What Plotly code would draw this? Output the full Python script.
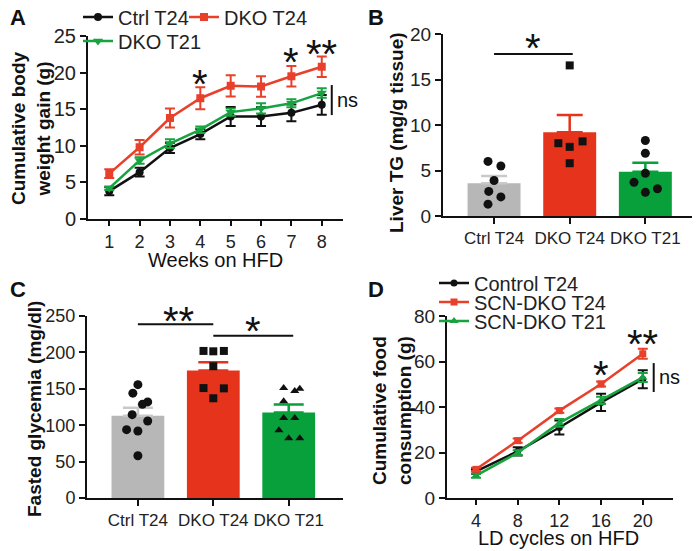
import plotly.graph_objects as go

# page body has an 8px default margin: the figure is sized to fill the rest of the 700x551 window
OFF = 8
W, H = 700 - OFF, 551 - OFF
def fx(px): return (px - OFF) / W
def fy(py): return 1 - (py - OFF) / H

FONT = "Arial, Liberation Sans, sans-serif"

# ---------------- data ----------------
weeks = [1, 2, 3, 4, 5, 6, 7, 8]
ctrl_bw = [3.8, 6.4, 9.7, 11.6, 14.0, 14.0, 14.5, 15.6]
ctrl_bw_sem = [0.55, 0.6, 0.7, 0.7, 1.3, 1.3, 1.15, 1.35]
dko24_bw = [6.2, 9.8, 13.8, 16.5, 18.2, 18.1, 19.5, 20.8]
dko24_bw_sem = [0.6, 1.0, 1.3, 1.5, 1.45, 1.4, 1.4, 1.4]
dko21_bw = [4.2, 8.0, 10.3, 12.2, 14.6, 15.1, 15.8, 17.2]
dko21_bw_sem = [0.25, 0.45, 0.6, 0.45, 0.5, 0.7, 0.55, 0.65]

groups = ["Ctrl T24", "DKO T24", "DKO T21"]
tg_mean = [3.6, 9.2, 4.85]
tg_sem = [0.8, 1.9, 1.0]
tg_ctrl = [6.0, 5.5, 3.9, 2.7, 2.1, 1.3]
tg_dko24 = [16.55, 8.0, 8.2, 7.6, 5.8]
tg_dko21 = [8.3, 6.9, 4.7, 3.7, 2.6, 3.0]

gly_mean = [113, 175, 117.5]
gly_sem = [11, 11.4, 11]
gly_ctrl = [155.7, 144, 132, 128.7, 114.5, 105.8, 93.9, 92, 58]
gly_dko24 = [202, 201.5, 202, 181, 151, 150.6, 137]
gly_dko21 = [151, 147, 150, 133, 110, 110, 93, 82, 82]

ld_cycles = [4, 8, 12, 16, 20]
ctrl_food = [11.7, 20.5, 31.0, 42.0, 52.2]
ctrl_food_sem = [1.0, 1.8, 3.1, 3.8, 4.0]
dko24_food = [12.6, 25.2, 38.4, 50.1, 63.4]
dko24_food_sem = [0.7, 0.9, 0.9, 1.1, 2.2]
dko21_food = [9.8, 19.9, 33.0, 42.9, 53.0]
dko21_food_sem = [0.95, 1.1, 1.7, 1.6, 2.0]

# ---------------- styles / layout helpers ----------------
BLACK = "#111111"
RED = "#e8402b"
GREEN = "#17a340"
BAR_GRAY = "#b7b7b7"
BAR_RED = "#e5341b"
BAR_GREEN = "#07a03b"

# horizontal jitter of dots (layout only, category units)
jit_tg = [[-0.08, 0.09, 0.0, -0.07, 0.09, -0.08],
          [0.0, -0.15, 0.17, 0.0, 0.0],
          [0.0, 0.0, 0.0, -0.15, 0.0, 0.16]]
jit_gly = [[0.0, -0.067, 0.13, 0.06, -0.076, 0.13, -0.15, 0.0, 0.0],
           [-0.13, 0.0, 0.14, 0.0, -0.13, 0.14, 0.0],
           [-0.067, 0.08, 0.147, -0.067, -0.067, 0.08, -0.13, 0.0, 0.147]]

fig = go.Figure()

def line_trace(x, y, e, color, symbol, name, xa, ya, legend, size=9):
    return go.Scatter(
        x=x, y=y, mode="lines+markers", name=name,
        line=dict(color=color, width=2.5),
        marker=dict(color=color, symbol=symbol, size=size),
        error_y=dict(type="data", array=e, color=color, thickness=2, width=5),
        xaxis=xa, yaxis=ya, legend=legend, showlegend=True)

# Panel A
fig.add_trace(line_trace(weeks, ctrl_bw, ctrl_bw_sem, BLACK, "circle", "Ctrl T24", "x", "y", "legend", 8))
fig.add_trace(line_trace(weeks, dko21_bw, dko21_bw_sem, GREEN, "triangle-down", "DKO T21", "x", "y", "legend3"))
fig.add_trace(line_trace(weeks, dko24_bw, dko24_bw_sem, RED, "square", "DKO T24", "x", "y", "legend2", 8))

# Panel B
bar_cols = [BAR_GRAY, BAR_RED, BAR_GREEN]
err_cols = ["#c9c9c9", BAR_RED, BAR_GREEN]
for i in range(3):
    fig.add_trace(go.Bar(x=[i], y=[tg_mean[i]], width=0.7, marker=dict(color=bar_cols[i], line=dict(width=0)),
                         error_y=dict(type="data", array=[tg_sem[i]], arrayminus=[0], symmetric=False,
                                      color=err_cols[i], thickness=2.5, width=13),
                         xaxis="x2", yaxis="y2", showlegend=False))
tg_pts = [tg_ctrl, tg_dko24, tg_dko21]
tg_sym = ["circle", "square", "circle"]
for i in range(3):
    fig.add_trace(go.Scatter(x=[i + d for d in jit_tg[i]], y=tg_pts[i], mode="markers",
                             marker=dict(color=BLACK, symbol=tg_sym[i], size=9 if tg_sym[i] == "circle" else 8),
                             xaxis="x2", yaxis="y2", showlegend=False))

# Panel C
for i in range(3):
    fig.add_trace(go.Bar(x=[i], y=[gly_mean[i]], width=0.7, marker=dict(color=bar_cols[i], line=dict(width=0)),
                         error_y=dict(type="data", array=[gly_sem[i]], arrayminus=[0], symmetric=False,
                                      color=err_cols[i], thickness=2.5, width=15),
                         xaxis="x3", yaxis="y3", showlegend=False))
gly_pts = [gly_ctrl, gly_dko24, gly_dko21]
gly_sym = ["circle", "square", "triangle-up"]
for i in range(3):
    fig.add_trace(go.Scatter(x=[i + d for d in jit_gly[i]], y=gly_pts[i], mode="markers",
                             marker=dict(color=BLACK, symbol=gly_sym[i], size=9 if gly_sym[i] == "circle" else 8),
                             xaxis="x3", yaxis="y3", showlegend=False))

# Panel D
fig.add_trace(line_trace(ld_cycles, ctrl_food, ctrl_food_sem, BLACK, "circle", "Control T24", "x4", "y4", "legend4", 7))
fig.add_trace(line_trace(ld_cycles, dko21_food, dko21_food_sem, GREEN, "triangle-up", "SCN-DKO T21", "x4", "y4", "legend6", 8))
fig.add_trace(line_trace(ld_cycles, dko24_food, dko24_food_sem, RED, "square", "SCN-DKO T24", "x4", "y4", "legend5", 7))

def axis(size, **kw):
    d = dict(showline=True, linecolor=BLACK, linewidth=2, ticks="outside", ticklen=6,
             tickwidth=2, tickcolor=BLACK, showgrid=False, zeroline=False, automargin=False,
             tickangle=0, tickfont=dict(family=FONT, size=size, color="#222"), fixedrange=True)
    d.update(kw)
    return d

fig.update_layout(
    width=W, height=H, margin=dict(l=0, r=0, t=0, b=0, autoexpand=False),
    plot_bgcolor="white", paper_bgcolor="white",
    font=dict(family=FONT, color="#222"),
    barmode="overlay",
    xaxis=axis(18, domain=[fx(88), fx(343)], range=[0.3, 8.7], tickvals=weeks, anchor="y", ticklen=5),
    yaxis=axis(20, domain=[fy(219), fy(36)], range=[0, 25], tickvals=[0, 5, 10, 15, 20, 25], anchor="x"),
    xaxis2=axis(17, domain=[fx(443), fx(693)], range=[-0.675, 2.63], tickvals=[0, 1, 2], ticktext=groups, anchor="y2"),
    yaxis2=axis(19, domain=[fy(216), fy(34)], range=[0, 20], tickvals=[0, 5, 10, 15, 20], anchor="x2"),
    xaxis3=axis(17, domain=[fx(87), fx(343)], range=[-0.675, 2.72], tickvals=[0, 1, 2], ticktext=groups, anchor="y3"),
    yaxis3=axis(18, domain=[fy(498), fy(316)], range=[0, 250], tickvals=[0, 50, 100, 150, 200, 250], anchor="x3"),
    xaxis4=axis(18, domain=[fx(447), fx(673)], range=[1.22, 22.9], tickvals=ld_cycles, anchor="y4", ticklen=5),
    yaxis4=axis(19, domain=[fy(498), fy(316)], range=[0, 80], tickvals=[0, 20, 40, 60, 80], anchor="x4"),
)

leg = dict(xanchor="left", yanchor="middle", bgcolor="rgba(0,0,0,0)", font=dict(family=FONT, size=20, color="#222"),
           itemwidth=30, borderwidth=0)
fig.update_layout(
    legend=dict(leg, x=fx(78), y=fy(17)),
    legend2=dict(leg, x=fx(184), y=fy(17)),
    legend3=dict(leg, x=fx(78), y=fy(41)),
    legend4=dict(leg, x=fx(434), y=fy(283)),
    legend5=dict(leg, x=fx(434), y=fy(302)),
    legend6=dict(leg, x=fx(434), y=fy(321)),
)

ann = []
def A(text, x, y, size, bold=False, angle=0, xref="paper", yref="paper", xanchor="center", yanchor="middle"):
    t = f"<b>{text}</b>" if bold else text
    ann.append(dict(text=t, x=x, y=y, xref=xref, yref=yref, showarrow=False, textangle=angle,
                    xanchor=xanchor, yanchor=yanchor, font=dict(family=FONT, size=size, color="#111")))

# panel letters
A("A", fx(8), fy(18), 22, True, xanchor="left")
A("B", fx(366), fy(18), 22, True, xanchor="left")
A("C", fx(8), fy(289), 22, True, xanchor="left")
A("D", fx(366), fy(289), 22, True, xanchor="left")
# axis titles
A("Cumulative body<br>weight gain (g)", fx(31), fy(128), 19, True, -90)
A("Liver TG (mg/g tissue)", fx(397), fy(132), 19, True, -90)
A("Fasted glycemia (mg/dl)", fx(34), fy(409), 19, True, -90)
A("Cumulative food<br>consumption (g)", fx(392), fy(410), 19, True, -90)
A("Weeks on HFD", fx(215), fy(260), 20)
A("LD cycles on HFD", fx(558), fy(538), 20)
# significance, panel A
A("*", 4, 18.4, 40, False, 0, "x", "y")
A("*", 7, 21.45, 40, False, 0, "x", "y")
A("**", 8, 22.5, 40, False, 0, "x", "y")
A("ns", 8.45, 16.2, 20, False, 0, "x", "y", "left")
# panel B
A("*", 0.52, 18.5, 40, False, 0, "x2", "y2")
# panel C
A("**", 0.54, 243, 40, False, 0, "x3", "y3")
A("*", 1.52, 229, 40, False, 0, "x3", "y3")
# panel D
A("*", 16, 54, 40, False, 0, "x4", "y4")
A("**", 20, 67.7, 40, False, 0, "x4", "y4")
A("ns", 21.35, 53, 20, False, 0, "x4", "y4", "left")
fig.update_layout(annotations=ann)

shapes = [
    dict(type="line", xref="x", yref="y", x0=8.33, x1=8.33, y0=14.2, y1=18.3, line=dict(color=BLACK, width=2)),
    dict(type="line", xref="x2", yref="y2", x0=0, x1=1.04, y0=17.8, y1=17.8, line=dict(color=BLACK, width=2)),
    dict(type="line", xref="x3", yref="y3", x0=0, x1=1.0, y0=238.6, y1=238.6, line=dict(color=BLACK, width=2)),
    dict(type="line", xref="x3", yref="y3", x0=1.0, x1=2.06, y0=223, y1=223, line=dict(color=BLACK, width=2)),
    dict(type="line", xref="x4", yref="y4", x0=21.05, x1=21.05, y0=46.6, y1=59.3, line=dict(color=BLACK, width=2)),
]
fig.update_layout(shapes=shapes)

fig.write_html("out.html")
